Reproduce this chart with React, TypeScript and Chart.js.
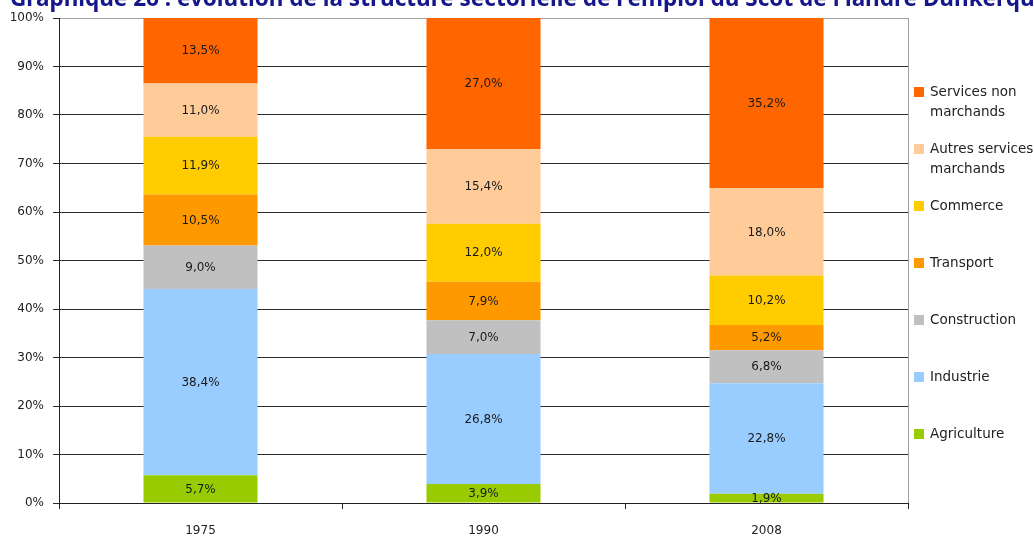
import React, { useEffect, useRef } from 'react';
import { Chart, registerables } from 'chart.js';

Chart.register(...registerables);

const title = "Graphique 26 : évolution de la structure sectorielle de l'emploi du Scot de Flandre Dunkerque";
const years = ['1975', '1990', '2008'];
const sectors = ['Agriculture', 'Industrie', 'Construction', 'Transport', 'Commerce', 'Autres services marchands', 'Services non marchands'];
const legendLines = [['Agriculture'], ['Industrie'], ['Construction'], ['Transport'], ['Commerce'], ['Autres services', 'marchands'], ['Services non', 'marchands']];
const agriculture = [5.7, 3.9, 1.9];
const industrie = [38.4, 26.8, 22.8];
const construction = [9.0, 7.0, 6.8];
const transport = [10.5, 7.9, 5.2];
const commerce = [11.9, 12.0, 10.2];
const autresServices = [11.0, 15.4, 18.0];
const servicesNon = [13.5, 27.0, 35.2];
const seriesValues = [agriculture, industrie, construction, transport, commerce, autresServices, servicesNon];
const colors = ['#99CC00', '#99CCFF', '#C0C0C0', '#FF9900', '#FFCC00', '#FFCC99', '#FF6600'];

const FONT = '"DejaVu Sans", sans-serif';
const fmt = (v: number) => v.toFixed(1).replace('.', ',') + '%';

const segLabels = {
  id: 'segLabels',
  afterDatasetsDraw(chart: any) {
    const ctx = chart.ctx;
    ctx.save();
    ctx.font = `12px ${FONT}`;
    ctx.fillStyle = '#1a1a1a';
    ctx.textAlign = 'center';
    ctx.textBaseline = 'middle';
    chart.data.datasets.forEach((ds: any, i: number) => {
      const meta = chart.getDatasetMeta(i);
      meta.data.forEach((el: any, j: number) => {
        const p = el.getProps(['x', 'y', 'base'], true);
        const top = Math.max(p.y, chart.chartArea.top);
        ctx.fillText(fmt(ds.data[j]), p.x, (top + p.base) / 2 + 0.5);
      });
    });
    // right border of plot
    const a = chart.chartArea;
    ctx.strokeStyle = '#A0A0A0';
    ctx.lineWidth = 1;
    ctx.beginPath();
    ctx.moveTo(Math.round(a.right) + 0.5, a.top);
    ctx.lineTo(Math.round(a.right) + 0.5, a.bottom);
    ctx.stroke();
    ctx.restore();
  },
};

const extras = {
  id: 'extras',
  afterDraw(chart: any) {
    const ctx = chart.ctx;
    ctx.save();
    // title
    ctx.font = `bold 20px "Noto Sans", sans-serif`;
    const w = ctx.measureText(title).width;
    const size = 20 * 1038 / w;
    ctx.font = `bold ${size.toFixed(2)}px "Noto Sans", sans-serif`;
    ctx.fillStyle = '#17178C';
    ctx.textAlign = 'left';
    ctx.textBaseline = 'alphabetic';
    ctx.fillText(title, 10, 6);
    // legend (reversed order)
    ctx.font = `13.5px ${FONT}`;
    ctx.textBaseline = 'middle';
    const n = sectors.length;
    for (let k = 0; k < n; k++) {
      const i = n - 1 - k;
      const y = 91.5 + k * 57.05;
      ctx.fillStyle = colors[i];
      ctx.fillRect(914, Math.round(y - 5), 10, 10);
      ctx.fillStyle = '#222';
      legendLines[i].forEach((line, li) => {
        ctx.fillText(line, 930, y + li * 20 + 0.5);
      });
    }
    ctx.restore();
  },
};

export default function App() {
  const ref = useRef<HTMLCanvasElement>(null);
  useEffect(() => {
    if (!ref.current) return;
    const chart = new Chart(ref.current, {
      type: 'bar',
      data: {
        labels: years,
        datasets: sectors.map((s, i) => ({
          label: s,
          data: seriesValues[i],
          backgroundColor: colors[i],
          borderWidth: 0,
          barPercentage: 0.403,
          categoryPercentage: 1,
        })),
      },
      options: {
        responsive: false,
        animation: false,
        devicePixelRatio: 1,
        layout: { padding: { top: 18, right: 126, left: 0, bottom: 0 } },
        plugins: { legend: { display: false }, tooltip: { enabled: false }, title: { display: false } },
        scales: {
          x: {
            stacked: true,
            offset: true,
            grid: { offset: true, drawOnChartArea: false, tickLength: 6, color: '#222' },
            border: { color: '#222' },
            ticks: { padding: 15, color: '#222', font: { family: FONT, size: 12 } },
            afterFit: (s: any) => { s.height = 33; },
          },
          y: {
            stacked: true,
            min: 0,
            max: 100,
            ticks: {
              stepSize: 10,
              padding: 9,
              color: '#222',
              font: { family: FONT, size: 12 },
              callback: (v: any) => v + '%',
            },
            grid: {
              color: (c: any) => (c.tick && c.tick.value === 100 ? '#A0A0A0' : '#2a2a2a'),
              tickColor: '#2a2a2a',
              tickLength: 6,
            },
            border: { color: '#222' },
            afterFit: (s: any) => { s.width = 59; },
          },
        },
      },
      plugins: [segLabels, extras],
    } as any);
    return () => chart.destroy();
  }, []);
  return (
    <div style={{ position: 'absolute', left: 0, top: 0, width: 1034, height: 536, background: '#fff' }}>
      <canvas ref={ref} width={1034} height={536} style={{ display: 'block' }} />
    </div>
  );
}
